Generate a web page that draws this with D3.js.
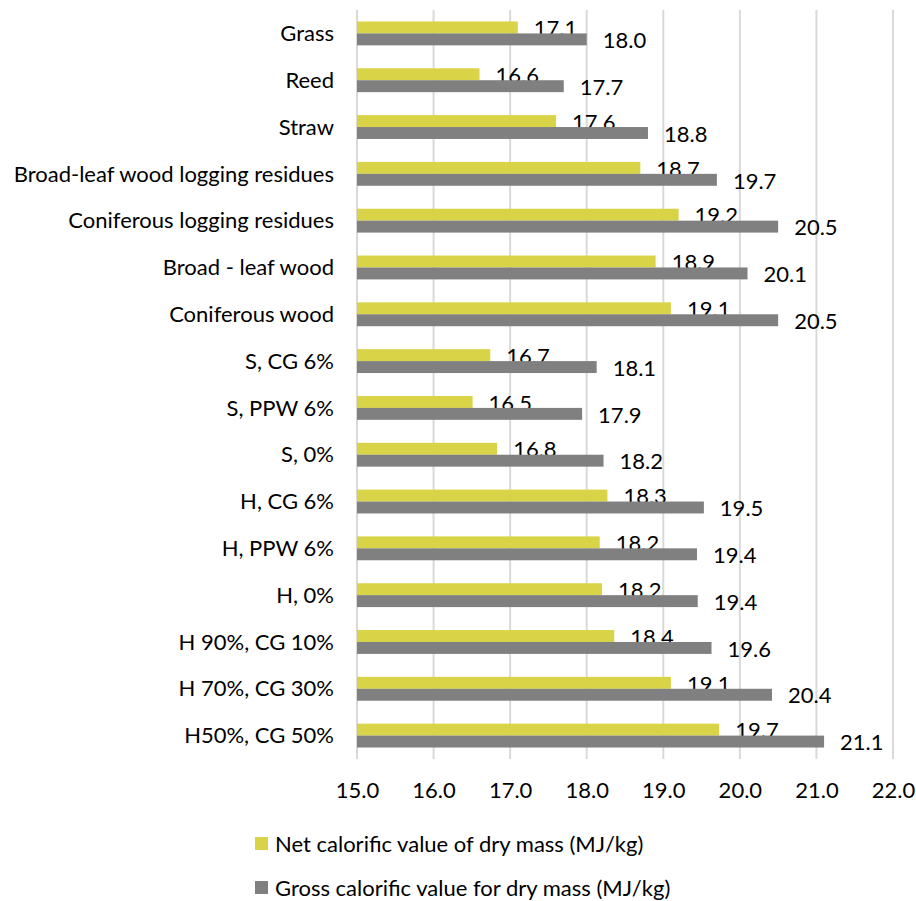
<!DOCTYPE html>
<html><head><meta charset="utf-8">
<script src="https://cdn.jsdelivr.net/npm/d3@7"></script>
<style>body{margin:0;background:#fff;} svg{display:block;font-family:Lato,"Open Sans",sans-serif;}</style>
</head><body>
<svg id="c" width="916" height="901"></svg>
<script>
const categories = ["Grass","Reed","Straw ","Broad-leaf wood logging residues","Coniferous logging residues","Broad - leaf wood","Coniferous wood","S, CG 6%","S, PPW 6%","S, 0%","H, CG 6%","H, PPW 6%","H, 0%","H 90%, CG 10%","H 70%, CG 30%","H50%, CG 50%"];
const netValues = [17.1,16.6,17.6,18.7,19.2,18.9,19.1,16.74,16.51,16.83,18.27,18.17,18.2,18.36,19.1,19.73];
const grossValues = [18.0,17.7,18.8,19.7,20.5,20.1,20.5,18.13,17.94,18.22,19.53,19.44,19.45,19.63,20.42,21.1];
const xTicks = [15,16,17,18,19,20,21,22];
const seriesNames = ["Net calorific value of dry mass (MJ/kg)","Gross calorific value for dry mass (MJ/kg)"];
const seriesColors = ["#D9D447","#808080"];

const svg = d3.select("#c");
const fs = 22;
const x = d3.scaleLinear().domain([15,22]).range([357,893]);
const y = d3.scaleBand().domain(categories).range([10,759]).paddingInner(0.49).paddingOuter(0.245);
const sub = d3.scaleBand().domain([0,1]).range([0,y.bandwidth()]);

// gridlines
svg.append("g").selectAll("line").data(xTicks).join("line")
  .attr("x1",d=>x(d)).attr("x2",d=>x(d)).attr("y1",10).attr("y2",759)
  .attr("stroke","#D9D9D9").attr("stroke-width",2);

// x axis
const xa = svg.append("g").attr("transform","translate(0,759)")
  .call(d3.axisBottom(x).tickValues(xTicks).tickFormat(d3.format(".1f")).tickSize(0).tickPadding(23));
xa.select(".domain").remove();
xa.selectAll("text").attr("font-size",fs).attr("fill","#000").attr("font-family","Lato");

// y axis labels
const ya = svg.append("g").attr("transform","translate(357,0)")
  .call(d3.axisLeft(y).tickSize(0).tickPadding(23));
ya.select(".domain").remove();
ya.selectAll("text").attr("font-size",fs).attr("fill","#000").attr("font-family","Lato").attr("dy","0.35em");

const data = categories.map((c,i)=>({c, vals:[netValues[i],grossValues[i]]}));
const g = svg.append("g");
data.forEach(d=>{
  d.vals.forEach((v,k)=>{
    const yy = y(d.c)+sub(k);
    g.append("rect").attr("x",x(15)).attr("y",yy).attr("width",x(v)-x(15)).attr("height",sub.bandwidth())
      .attr("fill",seriesColors[k]);
    g.append("text").attr("x",x(v)+16).attr("y",yy+sub.bandwidth()/2+1).attr("dy","0.35em")
      .attr("font-size",fs).attr("fill","#000").text(v.toFixed(1));
  });
});

// legend
const lg = svg.append("g");
seriesNames.forEach((n,i)=>{
  const ly = 844 + i*44;
  lg.append("rect").attr("x",255).attr("y",ly-7).attr("width",13).attr("height",13).attr("fill",seriesColors[i]);
  lg.append("text").attr("x",275).attr("y",ly).attr("dy","0.35em").attr("font-size",fs).attr("fill","#000").text(n);
});
</script>
</body></html>
